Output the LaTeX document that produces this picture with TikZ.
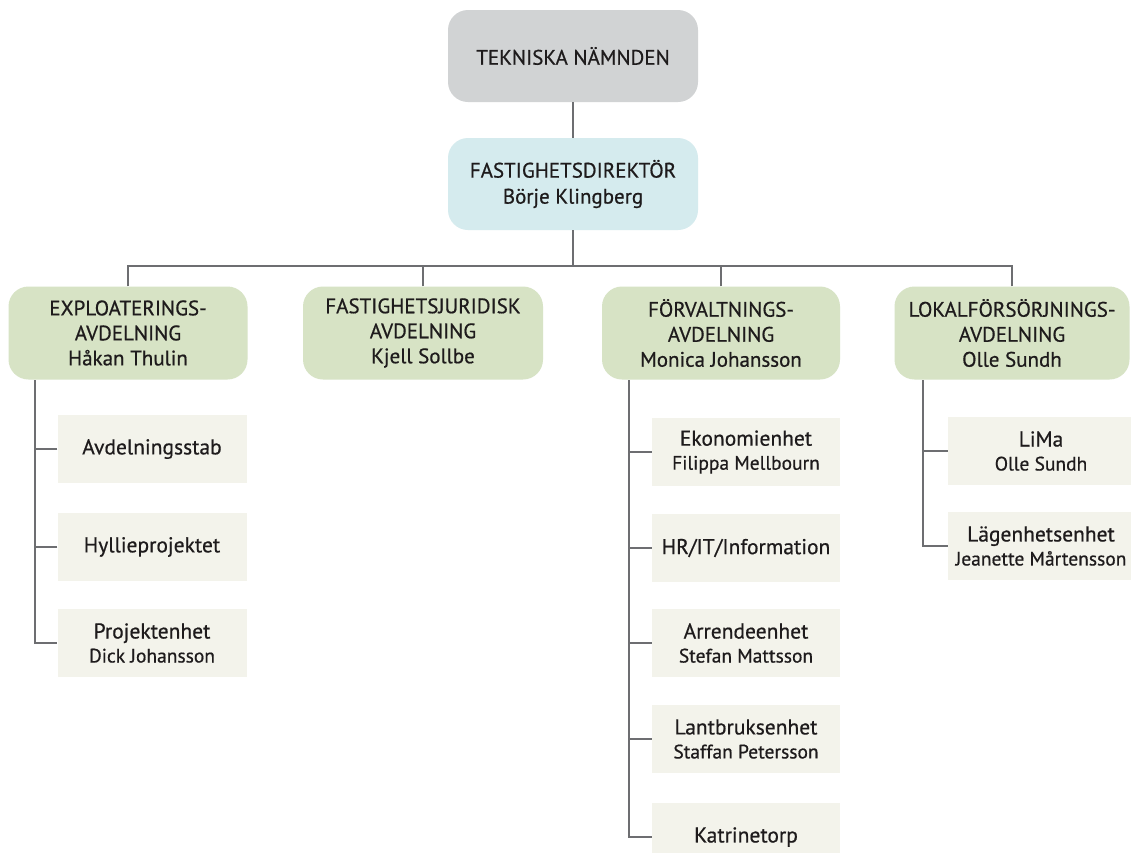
\documentclass[tikz,border=0pt]{standalone}
\usepackage{fontspec}
\setmainfont{PT Sans}[BoldFont=PT Sans, BoldFeatures={FakeBold=0.6}]
\definecolor{txt}{HTML}{1E1B1C}
\definecolor{ln}{HTML}{6D6E71}
\definecolor{gr}{HTML}{D1D3D4}
\definecolor{bl}{HTML}{D5EBEE}
\definecolor{gn}{HTML}{D7E3C5}
\definecolor{sb}{HTML}{F3F3EB}
\newcommand\nmsz{\fontsize{19.5}{24}\selectfont}
\begin{document}
\begin{tikzpicture}[x=1pt,y=-1pt,
  topbox/.style={rounded corners=20pt, minimum width=250pt, minimum height=92pt, inner sep=0pt, align=center, text=txt, font=\fontsize{21}{26}\selectfont\bfseries},
  deptbox/.style={fill=gn, rounded corners=20pt, minimum height=93pt, inner sep=0pt, align=center, text=txt, font=\fontsize{21}{25}\selectfont\bfseries},
  subbox/.style={fill=sb, minimum height=68pt, inner sep=0pt, align=center, text=txt, font=\fontsize{21.5}{24}\selectfont\bfseries},
  conn/.style={draw=ln, line width=1.8pt}]
\useasboundingbox (0,0) rectangle (1131,852);
\clip (0,0) rectangle (1131,852);
\fill[white] (0,0) rectangle (1131,852);
% top
\node[topbox, fill=gr] (tn) at (573,56) {TEKNISKA NÄMNDEN};
\node[topbox, fill=bl] (fd) at (573,184) {FASTIGHETSDIREKTÖR\\Börje Klingberg};
% departments
\node[deptbox, minimum width=239pt] (exp) at (128,333) {EXPLOATERINGS-\\AVDELNING\\Håkan Thulin};
\node[deptbox, minimum width=240pt] (jur) at (423,333) {FASTIGHETSJURIDISK\\AVDELNING\\Kjell Sollbe};
\node[deptbox, minimum width=238pt] (forv) at (721,333) {FÖRVALTNINGS-\\AVDELNING\\Monica Johansson};
\node[deptbox, minimum width=235pt] (lok) at (1012,333) {LOKALFÖRSÖRJNINGS-\\AVDELNING\\Olle Sundh};
% exploatering units
\node[subbox, minimum width=189pt] (e1) at (152,449) {Avdelningsstab};
\node[subbox, minimum width=189pt] (e2) at (152,547) {Hyllieprojektet};
\node[subbox, minimum width=189pt] (e3) at (152,643) {Projektenhet\\{\nmsz Dick Johansson}};
% forvaltning units
\node[subbox, minimum width=188pt] (f1) at (746,452) {Ekonomienhet\\{\nmsz Filippa Mellbourn}};
\node[subbox, minimum width=188pt] (f2) at (746,548) {HR/IT/Information};
\node[subbox, minimum width=188pt] (f3) at (746,643) {Arrendeenhet\\{\nmsz Stefan Mattsson}};
\node[subbox, minimum width=188pt] (f4) at (746,739) {Lantbruksenhet\\{\nmsz Staffan Petersson}};
\node[subbox, minimum width=188pt] (f5) at (746,837) {Katrinetorp};
% lokalforsorjning units
\node[subbox, minimum width=186pt] (l1) at (1041,451) {LiMa\\{\nmsz Olle Sundh}};
\node[subbox, minimum width=186pt] (l2) at (1041,546) {Lägenhetsenhet\\{\nmsz Jeanette Mårtensson}};
% connectors
\coordinate (bus) at (573,266);
\draw[conn] (tn.south) -- (fd.north);
\draw[conn] (fd.south) -- (bus);
\draw[conn] (exp.north) |- (bus);
\draw[conn] (jur.north) |- (bus);
\draw[conn] (forv.north) |- (bus);
\draw[conn] (lok.north) |- (bus);
\coordinate (es) at (35,380);
\coordinate (fs) at (629,380);
\coordinate (ls) at (923,380);
\draw[conn] (es) |- (e3.west);
\draw[conn] (e1.west) -- (e1.west -| es);
\draw[conn] (e2.west) -- (e2.west -| es);
\draw[conn] (fs) |- (f5.west);
\draw[conn] (f1.west) -- (f1.west -| fs);
\draw[conn] (f2.west) -- (f2.west -| fs);
\draw[conn] (f3.west) -- (f3.west -| fs);
\draw[conn] (f4.west) -- (f4.west -| fs);
\draw[conn] (ls) |- (l2.west);
\draw[conn] (l1.west) -- (l1.west -| ls);
\end{tikzpicture}
\end{document}
